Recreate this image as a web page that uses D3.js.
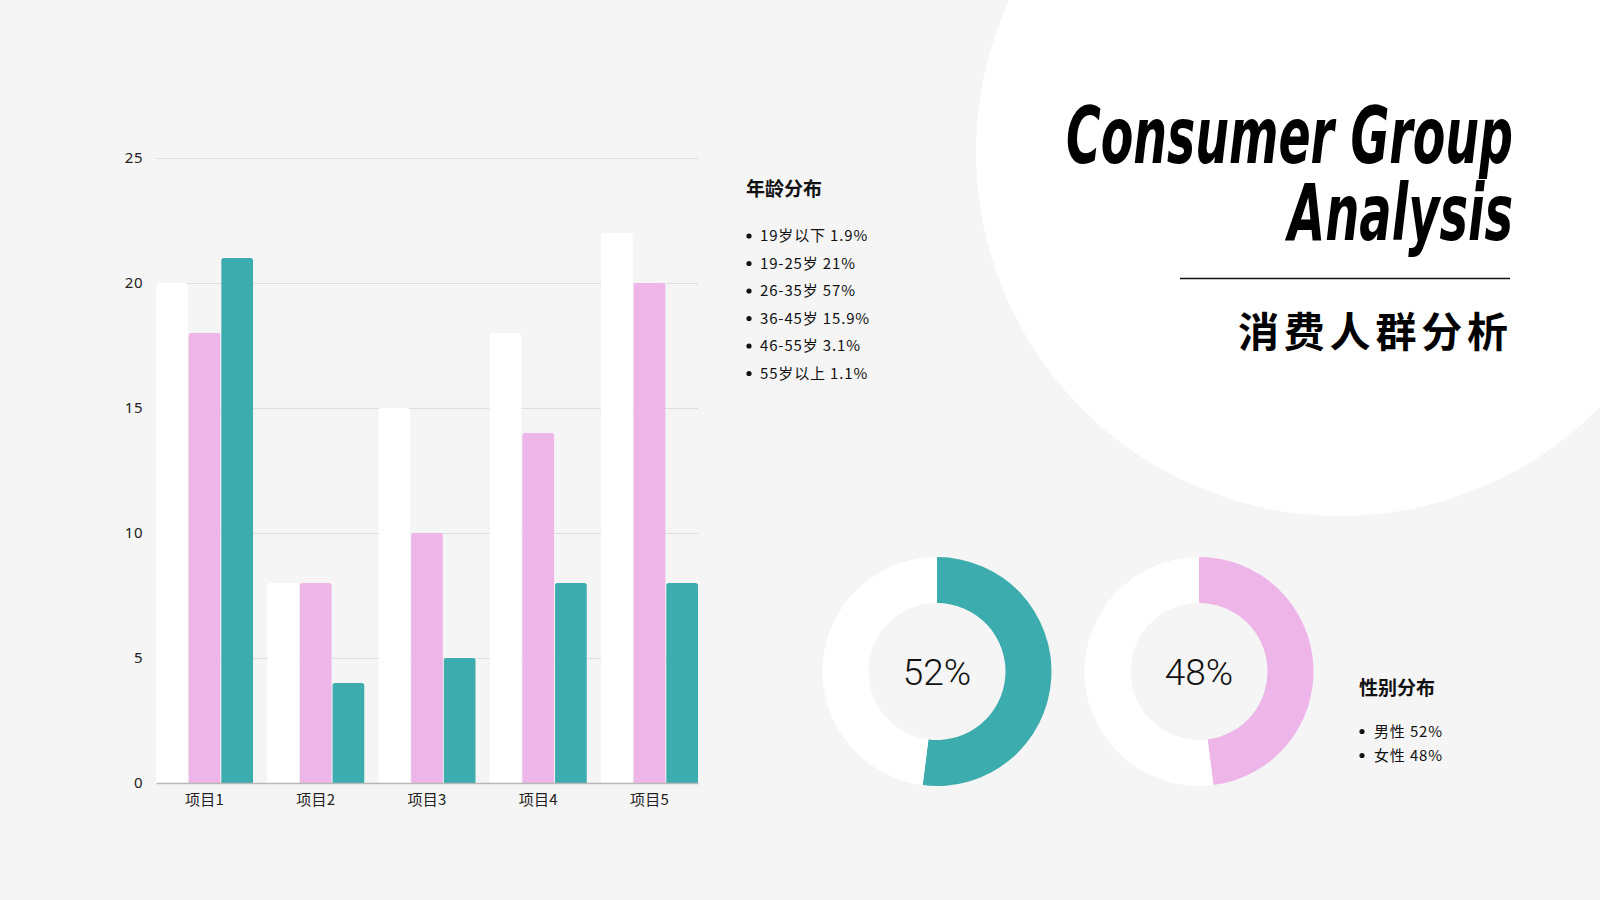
<!DOCTYPE html>
<html>
<head>
<meta charset="utf-8">
<script src="https://cdn.jsdelivr.net/npm/d3@7/dist/d3.min.js"></script>
<style>
  html, body { margin: 0; padding: 0; background: #f5f5f5; }
  svg { display: block; }
</style>
</head>
<body>
<svg id="chart" width="1600" height="900"></svg>
<script>
// ---------- data ----------
const categories = ["项目1", "项目2", "项目3", "项目4", "项目5"];
const seriesNames = ["系列1", "系列2", "系列3"];
const series1 = [20, 8, 15, 18, 22];
const series2 = [18, 8, 10, 14, 20];
const series3 = [21, 4, 5, 8, 8];
const yTicks = [0, 5, 10, 15, 20, 25];

const ageTitle = "年龄分布";
const ageItems = ["19岁以下 1.9%", "19-25岁 21%", "26-35岁 57%", "36-45岁 15.9%", "46-55岁 3.1%", "55岁以上 1.1%"];

const genderTitle = "性别分布";
const genderLabels = ["男性", "女性"];
const genderValues = [52, 48];

const titleLines = ["Consumer Group", "Analysis"];
const subTitle = "消费人群分析";

// ---------- setup ----------
const W = 1600, H = 900;
const svg = d3.select("#chart");
const colors = ["#ffffff", "#edb5e8", "#3dacae"];
const cjk = "'Noto Sans CJK SC', 'Noto Sans', sans-serif";

svg.append("rect").attr("width", W).attr("height", H).attr("fill", "#f5f5f5");

// big decorative circle
svg.append("circle").attr("cx", 1340).attr("cy", 152).attr("r", 364).attr("fill", "#ffffff");

// ---------- bar chart ----------
const plot = { left: 156, right: 698, top: 158, bottom: 783 };
const x0 = d3.scaleBand().domain(categories).range([plot.left, plot.right]).paddingInner(0.128).paddingOuter(0);
const x1 = d3.scaleBand().domain(seriesNames).range([0, x0.bandwidth()]).paddingInner(0.03).paddingOuter(0);
const y = d3.scaleLinear().domain([0, 25]).range([plot.bottom, plot.top]);

// gridlines
const grid = svg.append("g").attr("class", "grid");
grid.selectAll("line").data(yTicks.filter(d => d > 0)).join("line")
  .attr("x1", plot.left).attr("x2", plot.right)
  .attr("y1", d => y(d) + 0.5).attr("y2", d => y(d) + 0.5)
  .attr("stroke", "#dedede").attr("stroke-width", 1);

// y tick labels
const yAxis = d3.axisLeft(y).tickValues(yTicks).tickSize(0).tickPadding(13);
const yg = svg.append("g").attr("transform", `translate(${plot.left},0)`).call(yAxis);
yg.select(".domain").remove();
yg.selectAll("text").attr("font-family", "'Noto Sans', sans-serif").attr("font-size", 15)
  .attr("letter-spacing", 0.5).attr("fill", "#222");

// bars
const allSeries = [series1, series2, series3];
const rows = categories.map((c, i) => ({ cat: c, vals: allSeries.map((s, k) => ({ name: seriesNames[k], v: s[i], k })) }));
function topRounded(xp, yp, w, h, r) {
  r = Math.min(r, w / 2, h);
  return `M${xp},${yp + h}V${yp + r}Q${xp},${yp} ${xp + r},${yp}H${xp + w - r}Q${xp + w},${yp} ${xp + w},${yp + r}V${yp + h}Z`;
}
const groups = svg.append("g").selectAll("g").data(rows).join("g")
  .attr("transform", d => `translate(${x0(d.cat)},0)`);
groups.selectAll("path").data(d => d.vals).join("path")
  .attr("d", d => topRounded(x1(d.name), y(d.v), x1.bandwidth(), y(0) - y(d.v), 2.5))
  .attr("fill", d => colors[d.k]);

// x axis
const xAxis = d3.axisBottom(x0).tickSize(0).tickPadding(11);
const xg = svg.append("g").attr("transform", `translate(0,${plot.bottom})`).call(xAxis);
xg.select(".domain").attr("stroke", "#b8b8b8").attr("stroke-width", 1.5);
xg.selectAll("text").attr("font-family", cjk).attr("font-size", 15).attr("letter-spacing", 0.3).attr("fill", "#222");

// ---------- age distribution list ----------
svg.append("text").attr("x", 746).attr("y", 196).text(ageTitle)
  .attr("font-family", cjk).attr("font-weight", 700).attr("font-size", 19).attr("fill", "#111");
const ageY = d3.scalePoint().domain(d3.range(ageItems.length)).range([236, 373.5]);
const ag = svg.append("g").selectAll("g").data(ageItems).join("g")
  .attr("transform", (d, i) => `translate(0,${ageY(i)})`);
ag.append("circle").attr("cx", 749).attr("cy", 0).attr("r", 2.6).attr("fill", "#111");
ag.append("text").attr("x", 760).attr("y", 0).attr("dy", "0.35em").text(d => d)
  .attr("font-family", cjk).attr("font-size", 15).attr("letter-spacing", 0.85).attr("fill", "#111");

// ---------- donuts ----------
const donutCenters = [937, 1199];
const donutColors = [colors[2], colors[1]];
const arc = d3.arc().innerRadius(68.5).outerRadius(114.5);
const pie = d3.pie().sort(null).value(d => d);
genderValues.forEach((v, i) => {
  const g = svg.append("g").attr("transform", `translate(${donutCenters[i]},671.5)`);
  g.selectAll("path").data(pie([v, 100 - v])).join("path")
    .attr("d", arc).attr("fill", (d, j) => j === 0 ? donutColors[i] : "#ffffff");
  g.append("text").attr("x", 0).attr("y", 0).attr("dy", "0.36em").attr("text-anchor", "middle")
    .text(v + "%").attr("font-family", "Roboto, 'Noto Sans', sans-serif").attr("font-weight", 300)
    .attr("font-size", 37).attr("fill", "#111");
});

// ---------- gender list ----------
svg.append("text").attr("x", 1359).attr("y", 695).text(genderTitle)
  .attr("font-family", cjk).attr("font-weight", 700).attr("font-size", 19).attr("fill", "#111");
const gY = d3.scalePoint().domain(d3.range(genderLabels.length)).range([731.5, 755.5]);
const gg = svg.append("g").selectAll("g").data(genderLabels).join("g")
  .attr("transform", (d, i) => `translate(0,${gY(i)})`);
gg.append("circle").attr("cx", 1362).attr("cy", 0).attr("r", 2.6).attr("fill", "#111");
gg.append("text").attr("x", 1374).attr("y", 0).attr("dy", "0.35em").text((d, i) => `${d} ${genderValues[i]}%`)
  .attr("font-family", cjk).attr("font-size", 15).attr("letter-spacing", 0.85).attr("fill", "#111");

// ---------- title ----------
const titleFont = "'Liberation Sans Narrow', 'DejaVu Sans Condensed', sans-serif";
svg.append("text").attr("x", 1513).attr("y", 163).attr("text-anchor", "end")
  .attr("textLength", 447).attr("lengthAdjust", "spacingAndGlyphs")
  .text(titleLines[0]).attr("font-family", titleFont).attr("font-weight", 700).attr("font-style", "italic")
  .attr("font-size", 78).attr("fill", "#000");
svg.append("text").attr("x", 1513).attr("y", 240).attr("text-anchor", "end")
  .attr("textLength", 225).attr("lengthAdjust", "spacingAndGlyphs")
  .text(titleLines[1]).attr("font-family", titleFont).attr("font-weight", 700).attr("font-style", "italic")
  .attr("font-size", 78).attr("fill", "#000");
svg.append("line").attr("x1", 1180).attr("x2", 1510).attr("y1", 278.5).attr("y2", 278.5)
  .attr("stroke", "#111").attr("stroke-width", 1.6);
svg.append("text").attr("x", 1508).attr("y", 347).attr("text-anchor", "end")
  .attr("textLength", 270).attr("lengthAdjust", "spacing")
  .text(subTitle).attr("font-family", cjk).attr("font-weight", 700).attr("font-size", 41).attr("fill", "#000");
</script>
</body>
</html>
